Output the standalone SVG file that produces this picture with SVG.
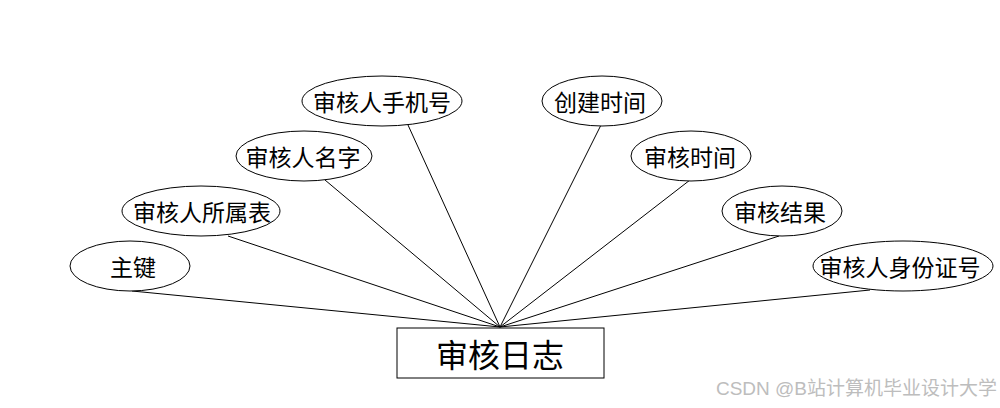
<svg xmlns="http://www.w3.org/2000/svg" width="1000" height="408" viewBox="0 0 1000 408">
<style>
.attr ellipse{fill:#fff;stroke:#000;stroke-width:1}
.lbl{font-family:"Noto Sans CJK SC","Noto Sans",sans-serif;font-size:23px;fill:#000;text-anchor:middle;dominant-baseline:central}
.conn line{stroke:#000;stroke-width:1}
</style>
<rect width="1000" height="408" fill="#fff"/>
<g id="connectors" class="conn">
<line x1="132" y1="291" x2="500" y2="327"/>
<line x1="228" y1="236" x2="500" y2="327"/>
<line x1="325" y1="180" x2="500" y2="327"/>
<line x1="408" y1="125" x2="500" y2="327"/>
<line x1="601" y1="125" x2="500" y2="327"/>
<line x1="690" y1="180" x2="500" y2="327"/>
<line x1="779" y1="236" x2="500" y2="327"/>
<line x1="870" y1="290" x2="500" y2="327"/>
</g>
<g id="n-zhujian" class="attr"><ellipse cx="130" cy="266" rx="60" ry="25"/><text class="lbl" x="133" y="266">主键</text></g>
<g id="n-suoshubiao" class="attr"><ellipse cx="201" cy="211" rx="79" ry="25"/><text class="lbl" x="202" y="211">审核人所属表</text></g>
<g id="n-mingzi" class="attr"><ellipse cx="304" cy="156" rx="68" ry="25"/><text class="lbl" x="303" y="156">审核人名字</text></g>
<g id="n-shoujihao" class="attr"><ellipse cx="382" cy="101" rx="80" ry="25"/><text class="lbl" x="382" y="101">审核人手机号</text></g>
<g id="n-chuangjian" class="attr"><ellipse cx="602" cy="101" rx="60" ry="25"/><text class="lbl" x="600" y="101">创建时间</text></g>
<g id="n-shenheshijian" class="attr"><ellipse cx="691" cy="156" rx="60" ry="25"/><text class="lbl" x="690" y="156">审核时间</text></g>
<g id="n-jieguo" class="attr"><ellipse cx="782" cy="211" rx="60" ry="25"/><text class="lbl" x="780" y="211">审核结果</text></g>
<g id="n-shenfenzheng" class="attr"><ellipse cx="903" cy="266" rx="90" ry="25"/><text class="lbl" x="900" y="266">审核人身份证号</text></g>
<g id="n-shenherizhi"><rect x="397" y="328" width="207" height="50" fill="#fff" stroke="#000" stroke-width="1"/><text class="lbl" x="500" y="353" style="font-size:32px">审核日志</text></g>
<text x="997" y="395" text-anchor="end" font-family="Liberation Sans,'Noto Sans CJK SC',sans-serif" font-size="19" fill="#bdbdbd">CSDN @B站计算机毕业设计大学</text>
</svg>
